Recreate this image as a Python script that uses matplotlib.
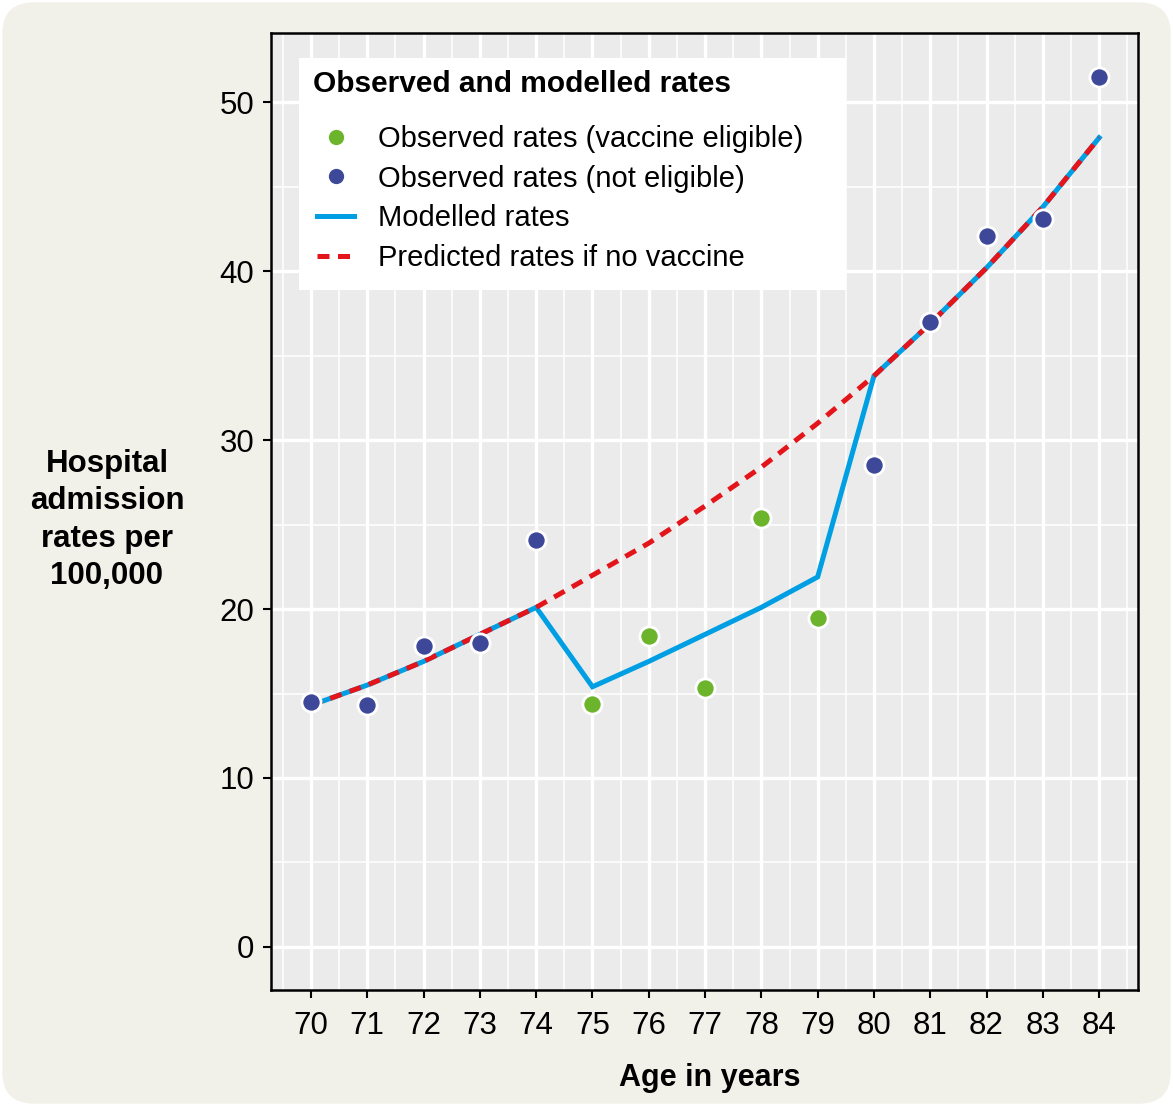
import matplotlib.pyplot as plt
from matplotlib.patches import FancyBboxPatch, Rectangle
from matplotlib.lines import Line2D

plt.rcParams['font.family'] = ['Liberation Sans', 'DejaVu Sans']

# data
ages = [70, 71, 72, 73, 74, 75, 76, 77, 78, 79, 80, 81, 82, 83, 84]
observed = [14.5, 14.3, 17.8, 18.0, 24.1, 14.4, 18.4, 15.3, 25.4, 19.5, 28.5, 37.0, 42.1, 43.1, 51.5]
eligible = [False, False, False, False, False, True, True, True, True, True,
            False, False, False, False, False]
modelled = [14.3, 15.5, 16.9, 18.5, 20.1, 15.4, 16.9, 18.5, 20.1, 21.9, 33.8, 36.9, 40.2, 43.8, 47.9]
predicted = [14.3, 15.5, 16.9, 18.5, 20.1, 22.0, 23.9, 26.1, 28.4, 31.0, 33.8, 36.9, 40.2, 43.8, 47.9]
y_ticks = [0, 10, 20, 30, 40, 50]

GREEN = '#6cb42c'
NAVY = '#3d4899'
BLUE = '#009fe3'
RED = '#e3151a'
CREAM = '#f2f1e9'
PANEL = '#ebebeb'

W, H = 1173, 1106
fig = plt.figure(figsize=(W / 100, H / 100), dpi=100)
fig.patch.set_facecolor('white')
bg = FancyBboxPatch((0.002, 0.002), 0.996, 0.996,
                    boxstyle='round,pad=0,rounding_size=0.028',
                    transform=fig.transFigure, facecolor=CREAM,
                    edgecolor='none', zorder=-5)
fig.patches.append(bg)

ax = fig.add_axes([271 / W, 1 - 990 / H, (1138 - 271) / W, (990 - 33) / H])
ax.set_facecolor(PANEL)

ax.plot(ages, modelled, color=BLUE, lw=3.6, zorder=3, solid_joinstyle='miter')
ax.plot(ages, predicted, color=RED, lw=3.6, linestyle=(0, (2.4, 1.7)), zorder=4)

x_el = [a for a, e in zip(ages, eligible) if e]
y_el = [v for v, e in zip(observed, eligible) if e]
x_ne = [a for a, e in zip(ages, eligible) if not e]
y_ne = [v for v, e in zip(observed, eligible) if not e]
ax.scatter(x_el, y_el, s=190, color=GREEN, edgecolor='white', linewidth=2, zorder=5)
ax.scatter(x_ne, y_ne, s=190, color=NAVY, edgecolor='white', linewidth=2, zorder=5)

ax.set_xticks(ages)
ax.set_xticks([a + 0.5 for a in range(69, 85)], minor=True)
ax.set_yticks(y_ticks)
ax.set_yticks([t + 5 for t in y_ticks[:-1]], minor=True)
ax.set_xlim(69.29, 84.69)
ax.set_ylim(-2.55, 54.1)
ax.grid(which='major', color='white', lw=2.4, zorder=1)
ax.grid(which='minor', color='white', lw=1.1, zorder=1)
ax.set_axisbelow(True)
ax.tick_params(which='major', length=6, width=1.5, color='black', labelsize=22.5, pad=6)
ax.tick_params(axis='x', which='major', pad=9)
ax.tick_params(which='minor', length=0)
for sp in ax.spines.values():
    sp.set_linewidth(1.8)
    sp.set_color('black')

ax.set_xlabel('Age in years', fontsize=22, fontweight='bold', labelpad=16)
ax.xaxis.label.set_x((710 - 271) / (1138 - 271))
fig.text(107 / W, 1 - 520 / H, 'Hospital\nadmission\nrates per\n100,000',
         ha='center', va='center', fontsize=22.5, fontweight='bold', linespacing=1.33)

# legend panel
ax_w, ax_h = 1138 - 271, 990 - 33
box = Rectangle(((299 - 271) / ax_w, (990 - 290) / ax_h), (846 - 299) / ax_w, (290 - 58) / ax_h,
                transform=ax.transAxes, facecolor='white', edgecolor='none', zorder=9)
ax.add_patch(box)
ax.text((313 - 271) / ax_w, (990 - 84) / ax_h, 'Observed and modelled rates',
        transform=ax.transAxes, ha='left', va='center', fontsize=21.5,
        fontweight='bold', zorder=11)

handles = [
    Line2D([], [], marker='o', color='none', markerfacecolor=GREEN, markeredgecolor='none', markersize=11),
    Line2D([], [], marker='o', color='none', markerfacecolor=NAVY, markeredgecolor='none', markersize=11),
    Line2D([], [], color=BLUE, lw=3.6),
    Line2D([], [], color=RED, lw=3.6, linestyle=(0, (2.4, 1.7))),
]
labels = ['Observed rates (vaccine eligible)', 'Observed rates (not eligible)',
          'Modelled rates', 'Predicted rates if no vaccine']
leg = ax.legend(handles, labels, loc='upper left',
                bbox_to_anchor=((317 - 271) / ax_w, (990 - 125) / ax_h), borderaxespad=0,
                borderpad=0, fontsize=21, frameon=False, handlelength=1.27,
                handletextpad=0.83, labelspacing=0.4)
leg.set_zorder(10)

fig.savefig('out.png', dpi=100, facecolor=fig.get_facecolor())
